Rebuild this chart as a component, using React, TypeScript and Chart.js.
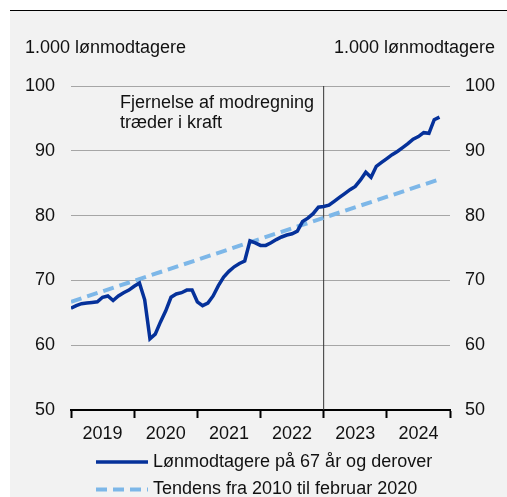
import React, { useEffect, useRef } from 'react';
import { Chart, registerables } from 'chart.js';

Chart.register(...registerables);

const FONT = 'Arial, "Liberation Sans", sans-serif';

const years = ['2019', '2020', '2021', '2022', '2023', '2024'];
const yTicks = [50, 60, 70, 80, 90, 100];
const axisTitle = '1.000 lønmodtagere';
const annotationLines = ['Fjernelse af modregning', 'træder i kraft'];
const seriesLabels = ['Lønmodtagere på 67 år og derover', 'Tendens fra 2010 til februar 2020'];

// Monthly values, Jan 2019 - Nov 2024 (1.000 persons)
const wageEarners67 = [
  65.7, 66.1, 66.4, 66.5, 66.6, 66.7, 67.4, 67.6, 66.9, 67.6, 68.1, 68.5,
  69.1, 69.6, 67.0, 61.0, 61.7, 63.6, 65.3, 67.4, 67.9, 68.1, 68.5, 68.5,
  66.7, 66.1, 66.5, 67.6, 69.2, 70.5, 71.4, 72.1, 72.6, 73.0, 76.1, 75.8,
  75.4, 75.4, 75.8, 76.3, 76.7, 77.0, 77.2, 77.6, 79.1, 79.6, 80.3, 81.3,
  81.4, 81.6, 82.2, 82.8, 83.4, 84.0, 84.5, 85.5, 86.7, 85.9, 87.6, 88.2,
  88.8, 89.4, 89.9, 90.5, 91.1, 91.8, 92.2, 92.8, 92.7, 94.8, 95.2,
];

// Trend line end points (month index, value)
const trendMonths = [0, 70];
const trendValues = [66.7, 85.6];

// Month index of policy change (Jan 2023)
const policyMonth = 48;

const MAIN_COLOR = '#05319a';
const TREND_COLOR = '#7db7e8';

const textPlugin = {
  id: 'texts',
  afterDraw(chart: any) {
    const { ctx, chartArea } = chart;
    ctx.save();
    ctx.fillStyle = '#111';
    ctx.font = `18px ${FONT}`;
    ctx.textBaseline = 'middle';
    // axis titles
    ctx.textAlign = 'left';
    ctx.fillText(axisTitle, 25, 48);
    ctx.textAlign = 'right';
    ctx.fillText(axisTitle, 495, 48);
    // annotation
    ctx.textAlign = 'left';
    annotationLines.forEach((l, i) => {
      ctx.fillText(l, chartArea.left + 49, chartArea.top + 17 + i * 20);
    });
    // legend
    const ds = chart.data.datasets;
    [0, 1].forEach((idx, row) => {
      const d = ds[idx];
      const y = chartArea.bottom + 52 + row * 27.5;
      const x0 = chartArea.left + 25;
      ctx.save();
      ctx.strokeStyle = d.borderColor;
      ctx.lineWidth = d.borderWidth;
      ctx.setLineDash(d.borderDash || []);
      ctx.beginPath();
      ctx.moveTo(x0, y);
      ctx.lineTo(x0 + 52, y);
      ctx.stroke();
      ctx.restore();
      ctx.fillStyle = '#111';
      ctx.textAlign = 'left';
      ctx.fillText(d.label, x0 + 57, y);
    });
    ctx.restore();
  },
};

export default function App() {
  const ref = useRef<HTMLCanvasElement | null>(null);

  useEffect(() => {
    if (!ref.current) return;
    const chart = new Chart(ref.current, {
      type: 'line',
      data: {
        datasets: [
          {
            label: seriesLabels[0],
            data: wageEarners67.map((v, i) => ({ x: i, y: v })),
            borderColor: MAIN_COLOR,
            borderWidth: 3.5,
            pointRadius: 0,
            tension: 0,
            order: 0,
            yAxisID: 'y',
          },
          {
            label: seriesLabels[1],
            data: trendMonths.map((m, i) => ({ x: m, y: trendValues[i] })),
            borderColor: TREND_COLOR,
            borderWidth: 4,
            borderDash: [11, 6],
            pointRadius: 0,
            tension: 0,
            order: 1,
            yAxisID: 'y',
          },
          {
            label: 'policy',
            data: [
              { x: policyMonth, y: yTicks[0] },
              { x: policyMonth, y: yTicks[yTicks.length - 1] },
            ],
            borderColor: '#333',
            borderWidth: 1,
            pointRadius: 0,
            order: 2,
            yAxisID: 'y',
          },
        ],
      },
      options: {
        animation: false,
        responsive: false,
        maintainAspectRatio: false,
        layout: { padding: { top: 86, left: 0, right: 0, bottom: 0 } },
        plugins: { legend: { display: false }, tooltip: { enabled: false }, title: { display: false } },
        scales: {
          x: {
            type: 'linear',
            position: 'bottom',
            min: 0,
            max: years.length * 12,
            afterBuildTicks: (scale: any) => {
              const t: any[] = [];
              for (let i = 0; i <= years.length; i++) {
                t.push({ value: i * 12 });
                if (i < years.length) t.push({ value: i * 12 + 6 });
              }
              scale.ticks = t;
            },
            afterFit: (scale: any) => {
              scale.height = 87;
            },
            ticks: {
              autoSkip: false,
              maxRotation: 0,
              minRotation: 0,
              padding: 5,
              color: '#111',
              font: { size: 18, family: FONT },
              callback: (value: any) => {
                const v = Number(value);
                if (v % 12 === 6) return years[(v - 6) / 12];
                return '';
              },
            },
            grid: {
              drawOnChartArea: false,
              drawTicks: true,
              tickLength: 8,
              tickWidth: 2,
              tickColor: (ctx: any) =>
                ctx.tick && ctx.tick.value % 12 === 0 ? '#000' : 'rgba(0,0,0,0)',
            },
            border: { display: true, color: '#000', width: 2 },
          },
          y: {
            position: 'left',
            min: yTicks[0],
            max: yTicks[yTicks.length - 1],
            afterFit: (scale: any) => {
              scale.width = 71;
            },
            ticks: {
              stepSize: 10,
              padding: 16,
              color: '#111',
              font: { size: 18, family: FONT },
            },
            grid: {
              drawTicks: false,
              color: (ctx: any) =>
                ctx.tick && ctx.tick.value === yTicks[0] ? 'rgba(0,0,0,0)' : '#a6a6a6',
              lineWidth: 1,
            },
            border: { display: false },
          },
          y2: {
            position: 'right',
            min: yTicks[0],
            max: yTicks[yTicks.length - 1],
            afterFit: (scale: any) => {
              scale.width = 57;
            },
            ticks: {
              stepSize: 10,
              padding: 15,
              color: '#111',
              font: { size: 18, family: FONT },
            },
            grid: { display: false, drawTicks: false },
            border: { display: false },
          },
        },
      },
      plugins: [textPlugin],
    } as any);
    return () => chart.destroy();
  }, []);

  return (
    <div style={{ position: 'fixed', left: 0, top: 0, width: 507, height: 497, background: '#fff', overflow: 'hidden' }}>
      <div
        style={{
          position: 'absolute',
          left: 10,
          top: 10,
          width: 497,
          height: 487,
          borderTop: '1px solid #000',
          background: '#f2f2f2',
        }}
      />
      <canvas
        ref={ref}
        width={507}
        height={497}
        style={{ position: 'absolute', left: 0, top: 0, width: 507, height: 497 }}
      />
    </div>
  );
}
